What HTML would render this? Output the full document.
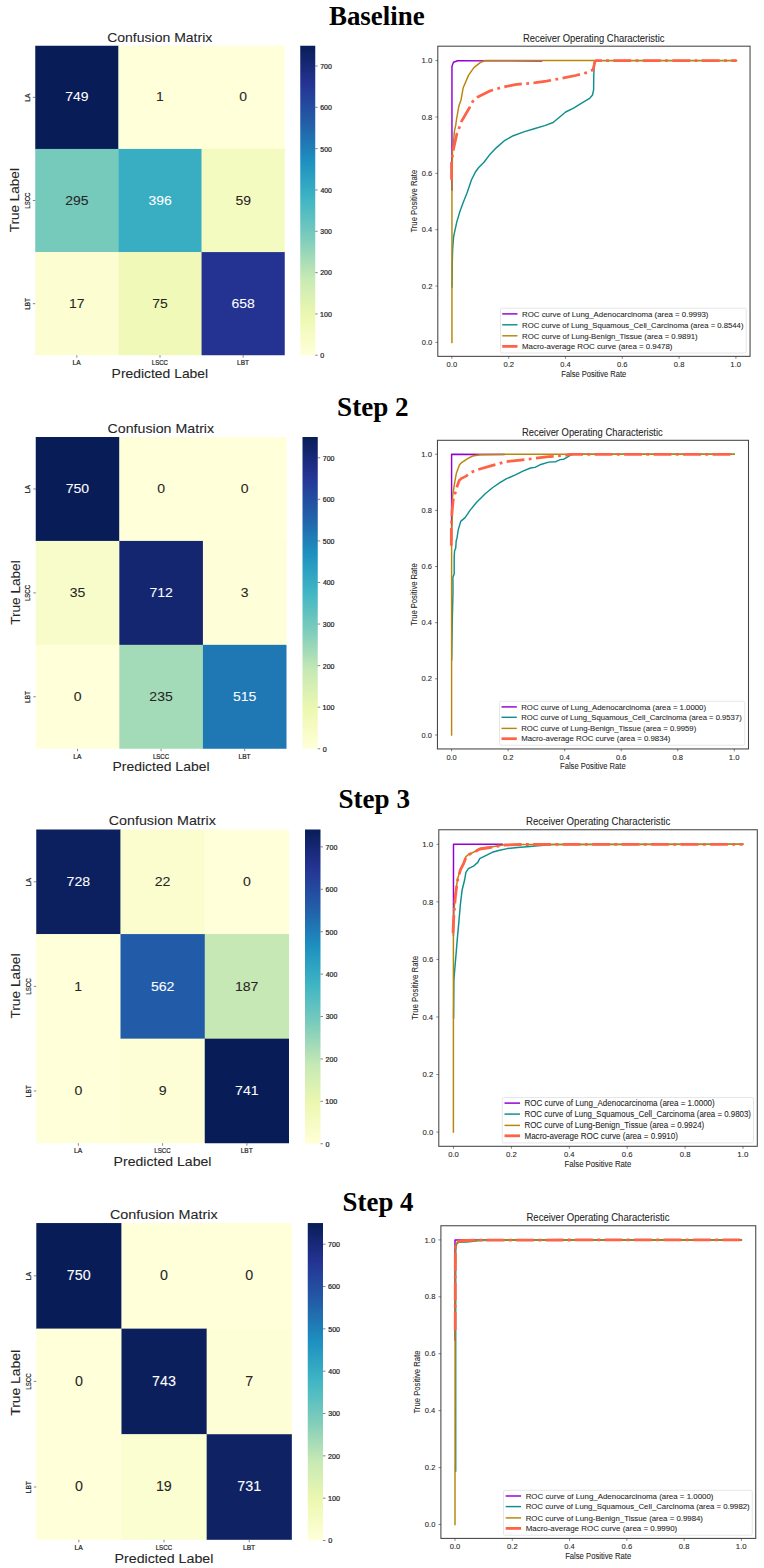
<!DOCTYPE html>
<html><head><meta charset="utf-8"><title>Confusion matrices and ROC curves</title>
<style>html,body{margin:0;padding:0;background:#fff;}svg{display:block;}</style></head>
<body><svg width="764" height="1568" viewBox="0 0 764 1568">
<rect width="764" height="1568" fill="#fff"/>
<text x="328.95" y="24.70" font-size="26.80" font-family='"Liberation Serif", serif' font-weight="bold" fill="#000" textLength="95.74" lengthAdjust="spacingAndGlyphs">Baseline</text>
<rect x="35.25" y="45.75" width="83.47" height="103.47" fill="rgb(8,29,88)"/>
<rect x="118.42" y="45.75" width="83.47" height="103.47" fill="rgb(255,255,217)"/>
<rect x="201.58" y="45.75" width="83.17" height="103.47" fill="rgb(255,255,217)"/>
<rect x="35.25" y="148.92" width="83.47" height="103.47" fill="rgb(118,202,188)"/>
<rect x="118.42" y="148.92" width="83.47" height="103.47" fill="rgb(57,174,195)"/>
<rect x="201.58" y="148.92" width="83.17" height="103.47" fill="rgb(244,251,192)"/>
<rect x="35.25" y="252.08" width="83.47" height="103.17" fill="rgb(252,254,210)"/>
<rect x="118.42" y="252.08" width="83.47" height="103.17" fill="rgb(241,249,185)"/>
<rect x="201.58" y="252.08" width="83.17" height="103.17" fill="rgb(36,51,146)"/>
<text x="65.18" y="101.41" font-size="13.40" font-family='"Liberation Sans", sans-serif' fill="#ffffff" textLength="23.25" lengthAdjust="spacingAndGlyphs" stroke="#ffffff" stroke-width="0.08">749</text>
<text x="155.93" y="101.41" font-size="13.40" font-family='"Liberation Sans", sans-serif' fill="#262626" textLength="7.75" lengthAdjust="spacingAndGlyphs" stroke="#262626" stroke-width="0.08">1</text>
<text x="239.29" y="101.41" font-size="13.40" font-family='"Liberation Sans", sans-serif' fill="#262626" textLength="7.75" lengthAdjust="spacingAndGlyphs" stroke="#262626" stroke-width="0.08">0</text>
<text x="65.15" y="204.58" font-size="13.40" font-family='"Liberation Sans", sans-serif' fill="#262626" textLength="23.25" lengthAdjust="spacingAndGlyphs" stroke="#262626" stroke-width="0.08">295</text>
<text x="148.42" y="204.58" font-size="13.40" font-family='"Liberation Sans", sans-serif' fill="#ffffff" textLength="23.25" lengthAdjust="spacingAndGlyphs" stroke="#ffffff" stroke-width="0.08">396</text>
<text x="235.47" y="204.58" font-size="13.40" font-family='"Liberation Sans", sans-serif' fill="#262626" textLength="15.50" lengthAdjust="spacingAndGlyphs" stroke="#262626" stroke-width="0.08">59</text>
<text x="68.90" y="307.74" font-size="13.40" font-family='"Liberation Sans", sans-serif' fill="#262626" textLength="15.50" lengthAdjust="spacingAndGlyphs" stroke="#262626" stroke-width="0.08">17</text>
<text x="152.18" y="307.74" font-size="13.40" font-family='"Liberation Sans", sans-serif' fill="#262626" textLength="15.50" lengthAdjust="spacingAndGlyphs" stroke="#262626" stroke-width="0.08">75</text>
<text x="231.49" y="307.74" font-size="13.40" font-family='"Liberation Sans", sans-serif' fill="#ffffff" textLength="23.25" lengthAdjust="spacingAndGlyphs" stroke="#ffffff" stroke-width="0.08">658</text>
<line x1="76.83" y1="355.25" x2="76.83" y2="357.65" stroke="#333" stroke-width="0.6"/>
<line x1="32.85" y1="97.33" x2="35.25" y2="97.33" stroke="#333" stroke-width="0.6"/>
<line x1="160.00" y1="355.25" x2="160.00" y2="357.65" stroke="#333" stroke-width="0.6"/>
<line x1="32.85" y1="200.50" x2="35.25" y2="200.50" stroke="#333" stroke-width="0.6"/>
<line x1="243.17" y1="355.25" x2="243.17" y2="357.65" stroke="#333" stroke-width="0.6"/>
<line x1="32.85" y1="303.67" x2="35.25" y2="303.67" stroke="#333" stroke-width="0.6"/>
<text x="72.49" y="365.05" font-size="7.00" font-family='"Liberation Sans", sans-serif' fill="#262626" textLength="8.16" lengthAdjust="spacingAndGlyphs" stroke="#262626" stroke-width="0.22">LA</text>
<g transform="translate(30.00 97.33) rotate(-90)"><text x="-4.35" y="0" font-size="7.00" font-family='"Liberation Sans", sans-serif' fill="#262626" textLength="8.16" lengthAdjust="spacingAndGlyphs" stroke="#262626" stroke-width="0.22">LA</text></g>
<text x="151.80" y="365.05" font-size="7.00" font-family='"Liberation Sans", sans-serif' fill="#262626" textLength="16.13" lengthAdjust="spacingAndGlyphs" stroke="#262626" stroke-width="0.22">LSCC</text>
<g transform="translate(30.00 200.50) rotate(-90)"><text x="-8.20" y="0" font-size="7.00" font-family='"Liberation Sans", sans-serif' fill="#262626" textLength="16.13" lengthAdjust="spacingAndGlyphs" stroke="#262626" stroke-width="0.22">LSCC</text></g>
<text x="237.04" y="365.05" font-size="7.00" font-family='"Liberation Sans", sans-serif' fill="#262626" textLength="11.88" lengthAdjust="spacingAndGlyphs" stroke="#262626" stroke-width="0.22">LBT</text>
<g transform="translate(30.00 303.67) rotate(-90)"><text x="-6.13" y="0" font-size="7.00" font-family='"Liberation Sans", sans-serif' fill="#262626" textLength="11.88" lengthAdjust="spacingAndGlyphs" stroke="#262626" stroke-width="0.22">LBT</text></g>
<text x="107.16" y="42.00" font-size="13.20" font-family='"Liberation Sans", sans-serif' fill="#262626" textLength="105.11" lengthAdjust="spacingAndGlyphs" stroke="#262626" stroke-width="0.08">Confusion Matrix</text>
<text x="111.61" y="378.10" font-size="13.20" font-family='"Liberation Sans", sans-serif' fill="#262626" textLength="96.57" lengthAdjust="spacingAndGlyphs" stroke="#262626" stroke-width="0.08">Predicted Label</text>
<g transform="translate(19.10 200.50) rotate(-90)"><text x="-31.80" y="0" font-size="13.20" font-family='"Liberation Sans", sans-serif' fill="#262626" textLength="64.20" lengthAdjust="spacingAndGlyphs" stroke="#262626" stroke-width="0.08">True Label</text></g>
<defs><linearGradient id="g1" x1="0" y1="0" x2="0" y2="1"><stop offset="0.0000" stop-color="#081d58"/><stop offset="0.1250" stop-color="#253494"/><stop offset="0.2500" stop-color="#225ea8"/><stop offset="0.3750" stop-color="#1d91c0"/><stop offset="0.5000" stop-color="#41b6c4"/><stop offset="0.6250" stop-color="#7fcdbb"/><stop offset="0.7500" stop-color="#c7e9b4"/><stop offset="0.8750" stop-color="#edf8b1"/><stop offset="1.0000" stop-color="#ffffd9"/></linearGradient></defs>
<rect x="300.25" y="45.75" width="15.00" height="309.50" fill="url(#g1)"/>
<line x1="315.25" y1="355.25" x2="317.65" y2="355.25" stroke="#333" stroke-width="0.6"/>
<text x="320.32" y="358.12" font-size="6.50" font-family='"Liberation Sans", sans-serif' fill="#262626" textLength="3.96" lengthAdjust="spacingAndGlyphs" stroke="#262626" stroke-width="0.22">0</text>
<line x1="315.25" y1="313.93" x2="317.65" y2="313.93" stroke="#333" stroke-width="0.6"/>
<text x="320.06" y="316.80" font-size="6.50" font-family='"Liberation Sans", sans-serif' fill="#262626" textLength="11.82" lengthAdjust="spacingAndGlyphs" stroke="#262626" stroke-width="0.22">100</text>
<line x1="315.25" y1="272.61" x2="317.65" y2="272.61" stroke="#333" stroke-width="0.6"/>
<text x="320.25" y="275.48" font-size="6.50" font-family='"Liberation Sans", sans-serif' fill="#262626" textLength="11.62" lengthAdjust="spacingAndGlyphs" stroke="#262626" stroke-width="0.22">200</text>
<line x1="315.25" y1="231.28" x2="317.65" y2="231.28" stroke="#333" stroke-width="0.6"/>
<text x="320.34" y="234.15" font-size="6.50" font-family='"Liberation Sans", sans-serif' fill="#262626" textLength="11.53" lengthAdjust="spacingAndGlyphs" stroke="#262626" stroke-width="0.22">300</text>
<line x1="315.25" y1="189.96" x2="317.65" y2="189.96" stroke="#333" stroke-width="0.6"/>
<text x="320.44" y="192.83" font-size="6.50" font-family='"Liberation Sans", sans-serif' fill="#262626" textLength="11.42" lengthAdjust="spacingAndGlyphs" stroke="#262626" stroke-width="0.22">400</text>
<line x1="315.25" y1="148.64" x2="317.65" y2="148.64" stroke="#333" stroke-width="0.6"/>
<text x="320.32" y="151.51" font-size="6.50" font-family='"Liberation Sans", sans-serif' fill="#262626" textLength="11.55" lengthAdjust="spacingAndGlyphs" stroke="#262626" stroke-width="0.22">500</text>
<line x1="315.25" y1="107.32" x2="317.65" y2="107.32" stroke="#333" stroke-width="0.6"/>
<text x="320.25" y="110.19" font-size="6.50" font-family='"Liberation Sans", sans-serif' fill="#262626" textLength="11.63" lengthAdjust="spacingAndGlyphs" stroke="#262626" stroke-width="0.22">600</text>
<line x1="315.25" y1="66.00" x2="317.65" y2="66.00" stroke="#333" stroke-width="0.6"/>
<text x="320.24" y="68.87" font-size="6.50" font-family='"Liberation Sans", sans-serif' fill="#262626" textLength="11.63" lengthAdjust="spacingAndGlyphs" stroke="#262626" stroke-width="0.22">700</text>
<defs><clipPath id="c1"><rect x="437.80" y="46.20" width="312.25" height="310.15"/></clipPath></defs>
<g clip-path="url(#c1)" fill="none" stroke-linejoin="round" stroke-linecap="square">
<path d="M451.95 190.00 L451.95 66.30 L453.50 62.30 L457.60 60.80 L541.50 60.90" stroke="#9400d3" stroke-width="1.45"/>
<path d="M451.95 287.00 L452.30 262.00 L452.60 250.00 L453.60 236.60 L456.80 221.90 L459.90 211.50 L463.00 203.10 L467.20 192.60 L471.40 180.00 L475.60 171.70 L478.70 167.50 L484.00 162.30 L490.30 153.90 L496.50 147.60 L504.90 140.30 L513.30 135.70 L523.80 131.90 L534.20 128.70 L544.70 125.60 L553.10 122.50 L559.40 117.20 L565.70 112.00 L574.00 107.80 L582.40 102.60 L589.70 98.40 L592.50 95.00 L593.60 89.90 L593.80 74.80 L594.30 62.00 L595.00 60.60 L735.90 60.60" stroke="#0f8f8f" stroke-width="1.45"/>
<path d="M451.95 342.40 L451.95 196.00 L452.50 150.30 L453.20 146.00 L454.40 131.40 L455.70 125.40 L456.60 118.80 L458.80 106.30 L461.00 100.00 L463.20 87.70 L468.60 75.10 L473.90 67.60 L480.20 62.60 L485.20 60.50 L736.50 60.50" stroke="#b8860b" stroke-width="1.45"/>
<path d="M451.50 179.80 L451.50 161.60 L452.50 155.30 L453.50 149.00 L457.00 133.30 L459.30 127.60 L461.50 121.40 L469.60 107.50 L472.70 101.50 L477.70 97.10 L490.30 90.80 L502.80 87.10 L515.40 84.60 L535.50 82.70 L546.50 81.10 L560.30 78.60 L575.40 75.50 L588.00 72.30 L593.00 69.80 L594.90 62.00 L596.00 60.50 L736.50 60.50" stroke="#ff6347" stroke-width="2.75" stroke-dasharray="17.8 4.45 2.78 4.45" stroke-linecap="butt"/>
</g>
<rect x="500.50" y="308.20" width="245.75" height="44.80" fill="#ffffff" fill-opacity="0.8" stroke="#dcdcdc" stroke-width="0.7" rx="1.5"/>
<line x1="502.20" y1="313.90" x2="517.50" y2="313.90" stroke="#9400d3" stroke-width="1.45"/>
<text x="522.06" y="316.65" font-size="8.00" font-family='"Liberation Sans", sans-serif' fill="#262626" textLength="186.43" lengthAdjust="spacingAndGlyphs" stroke="#262626" stroke-width="0.08">ROC curve of Lung_Adenocarcinoma (area = 0.9993)</text>
<line x1="502.20" y1="324.80" x2="517.50" y2="324.80" stroke="#0f8f8f" stroke-width="1.45"/>
<text x="522.07" y="327.55" font-size="8.00" font-family='"Liberation Sans", sans-serif' fill="#262626" textLength="221.41" lengthAdjust="spacingAndGlyphs" stroke="#262626" stroke-width="0.08">ROC curve of Lung_Squamous_Cell_Carcinoma (area = 0.8544)</text>
<line x1="502.20" y1="335.80" x2="517.50" y2="335.80" stroke="#b8860b" stroke-width="1.45"/>
<text x="522.06" y="338.55" font-size="8.00" font-family='"Liberation Sans", sans-serif' fill="#262626" textLength="175.62" lengthAdjust="spacingAndGlyphs" stroke="#262626" stroke-width="0.08">ROC curve of Lung-Benign_Tissue (area = 0.9891)</text>
<line x1="502.20" y1="346.40" x2="517.50" y2="346.40" stroke="#ff6347" stroke-width="2.75"/>
<text x="522.05" y="349.15" font-size="8.00" font-family='"Liberation Sans", sans-serif' fill="#262626" textLength="150.43" lengthAdjust="spacingAndGlyphs" stroke="#262626" stroke-width="0.08">Macro-average ROC curve (area = 0.9478)</text>
<rect x="437.80" y="46.20" width="312.25" height="310.15" fill="none" stroke="#444" stroke-width="1.05"/>
<line x1="451.85" y1="356.35" x2="451.85" y2="358.75" stroke="#333" stroke-width="0.6"/>
<text x="446.61" y="366.75" font-size="7.60" font-family='"Liberation Sans", sans-serif' fill="#262626" textLength="10.49" lengthAdjust="spacingAndGlyphs" stroke="#262626" stroke-width="0.08">0.0</text>
<line x1="435.40" y1="342.40" x2="437.80" y2="342.40" stroke="#333" stroke-width="0.6"/>
<text x="421.81" y="345.05" font-size="7.60" font-family='"Liberation Sans", sans-serif' fill="#262626" textLength="10.49" lengthAdjust="spacingAndGlyphs" stroke="#262626" stroke-width="0.08">0.0</text>
<line x1="508.66" y1="356.35" x2="508.66" y2="358.75" stroke="#333" stroke-width="0.6"/>
<text x="503.41" y="366.75" font-size="7.60" font-family='"Liberation Sans", sans-serif' fill="#262626" textLength="10.58" lengthAdjust="spacingAndGlyphs" stroke="#262626" stroke-width="0.08">0.2</text>
<line x1="435.40" y1="286.04" x2="437.80" y2="286.04" stroke="#333" stroke-width="0.6"/>
<text x="421.80" y="288.69" font-size="7.60" font-family='"Liberation Sans", sans-serif' fill="#262626" textLength="10.58" lengthAdjust="spacingAndGlyphs" stroke="#262626" stroke-width="0.08">0.2</text>
<line x1="565.47" y1="356.35" x2="565.47" y2="358.75" stroke="#333" stroke-width="0.6"/>
<text x="560.23" y="366.75" font-size="7.60" font-family='"Liberation Sans", sans-serif' fill="#262626" textLength="10.41" lengthAdjust="spacingAndGlyphs" stroke="#262626" stroke-width="0.08">0.4</text>
<line x1="435.40" y1="229.68" x2="437.80" y2="229.68" stroke="#333" stroke-width="0.6"/>
<text x="421.81" y="232.33" font-size="7.60" font-family='"Liberation Sans", sans-serif' fill="#262626" textLength="10.41" lengthAdjust="spacingAndGlyphs" stroke="#262626" stroke-width="0.08">0.4</text>
<line x1="622.28" y1="356.35" x2="622.28" y2="358.75" stroke="#333" stroke-width="0.6"/>
<text x="617.03" y="366.75" font-size="7.60" font-family='"Liberation Sans", sans-serif' fill="#262626" textLength="10.53" lengthAdjust="spacingAndGlyphs" stroke="#262626" stroke-width="0.08">0.6</text>
<line x1="435.40" y1="173.32" x2="437.80" y2="173.32" stroke="#333" stroke-width="0.6"/>
<text x="421.80" y="175.97" font-size="7.60" font-family='"Liberation Sans", sans-serif' fill="#262626" textLength="10.53" lengthAdjust="spacingAndGlyphs" stroke="#262626" stroke-width="0.08">0.6</text>
<line x1="679.09" y1="356.35" x2="679.09" y2="358.75" stroke="#333" stroke-width="0.6"/>
<text x="673.84" y="366.75" font-size="7.60" font-family='"Liberation Sans", sans-serif' fill="#262626" textLength="10.52" lengthAdjust="spacingAndGlyphs" stroke="#262626" stroke-width="0.08">0.8</text>
<line x1="435.40" y1="116.96" x2="437.80" y2="116.96" stroke="#333" stroke-width="0.6"/>
<text x="421.80" y="119.61" font-size="7.60" font-family='"Liberation Sans", sans-serif' fill="#262626" textLength="10.52" lengthAdjust="spacingAndGlyphs" stroke="#262626" stroke-width="0.08">0.8</text>
<line x1="735.90" y1="356.35" x2="735.90" y2="358.75" stroke="#333" stroke-width="0.6"/>
<text x="730.36" y="366.75" font-size="7.60" font-family='"Liberation Sans", sans-serif' fill="#262626" textLength="10.79" lengthAdjust="spacingAndGlyphs" stroke="#262626" stroke-width="0.08">1.0</text>
<line x1="435.40" y1="60.60" x2="437.80" y2="60.60" stroke="#333" stroke-width="0.6"/>
<text x="421.51" y="63.25" font-size="7.60" font-family='"Liberation Sans", sans-serif' fill="#262626" textLength="10.79" lengthAdjust="spacingAndGlyphs" stroke="#262626" stroke-width="0.08">1.0</text>
<text x="522.93" y="41.90" font-size="10.40" font-family='"Liberation Sans", sans-serif' fill="#262626" textLength="141.57" lengthAdjust="spacingAndGlyphs" stroke="#262626" stroke-width="0.08">Receiver Operating Characteristic</text>
<text x="561.31" y="376.85" font-size="8.50" font-family='"Liberation Sans", sans-serif' fill="#262626" textLength="64.95" lengthAdjust="spacingAndGlyphs" stroke="#262626" stroke-width="0.08">False Positive Rate</text>
<g transform="translate(417.30 201.28) rotate(-90)"><text x="-31.32" y="0" font-size="8.50" font-family='"Liberation Sans", sans-serif' fill="#262626" textLength="62.81" lengthAdjust="spacingAndGlyphs" stroke="#262626" stroke-width="0.08">True Positive Rate</text></g>
<text x="337.06" y="416.40" font-size="27.00" font-family='"Liberation Serif", serif' font-weight="bold" fill="#000" textLength="71.61" lengthAdjust="spacingAndGlyphs">Step 2</text>
<rect x="35.75" y="437.00" width="83.88" height="104.22" fill="rgb(8,29,88)"/>
<rect x="119.33" y="437.00" width="83.88" height="104.22" fill="rgb(255,255,217)"/>
<rect x="202.92" y="437.00" width="83.58" height="104.22" fill="rgb(255,255,217)"/>
<rect x="35.75" y="540.92" width="83.88" height="104.22" fill="rgb(248,252,202)"/>
<rect x="119.33" y="540.92" width="83.88" height="104.22" fill="rgb(20,38,112)"/>
<rect x="202.92" y="540.92" width="83.58" height="104.22" fill="rgb(254,255,216)"/>
<rect x="35.75" y="644.83" width="83.88" height="103.92" fill="rgb(255,255,217)"/>
<rect x="119.33" y="644.83" width="83.88" height="103.92" fill="rgb(163,219,184)"/>
<rect x="202.92" y="644.83" width="83.58" height="103.92" fill="rgb(31,120,180)"/>
<text x="65.77" y="493.06" font-size="13.47" font-family='"Liberation Sans", sans-serif' fill="#ffffff" textLength="23.37" lengthAdjust="spacingAndGlyphs" stroke="#ffffff" stroke-width="0.08">750</text>
<text x="157.23" y="493.06" font-size="13.47" font-family='"Liberation Sans", sans-serif' fill="#262626" textLength="7.79" lengthAdjust="spacingAndGlyphs" stroke="#262626" stroke-width="0.08">0</text>
<text x="240.81" y="493.06" font-size="13.47" font-family='"Liberation Sans", sans-serif' fill="#262626" textLength="7.79" lengthAdjust="spacingAndGlyphs" stroke="#262626" stroke-width="0.08">0</text>
<text x="69.78" y="596.98" font-size="13.47" font-family='"Liberation Sans", sans-serif' fill="#262626" textLength="15.58" lengthAdjust="spacingAndGlyphs" stroke="#262626" stroke-width="0.08">35</text>
<text x="149.43" y="596.98" font-size="13.47" font-family='"Liberation Sans", sans-serif' fill="#ffffff" textLength="23.37" lengthAdjust="spacingAndGlyphs" stroke="#ffffff" stroke-width="0.08">712</text>
<text x="240.85" y="596.98" font-size="13.47" font-family='"Liberation Sans", sans-serif' fill="#262626" textLength="7.79" lengthAdjust="spacingAndGlyphs" stroke="#262626" stroke-width="0.08">3</text>
<text x="73.65" y="700.89" font-size="13.47" font-family='"Liberation Sans", sans-serif' fill="#262626" textLength="7.79" lengthAdjust="spacingAndGlyphs" stroke="#262626" stroke-width="0.08">0</text>
<text x="149.38" y="700.89" font-size="13.47" font-family='"Liberation Sans", sans-serif' fill="#262626" textLength="23.37" lengthAdjust="spacingAndGlyphs" stroke="#262626" stroke-width="0.08">235</text>
<text x="233.04" y="700.89" font-size="13.47" font-family='"Liberation Sans", sans-serif' fill="#ffffff" textLength="23.37" lengthAdjust="spacingAndGlyphs" stroke="#ffffff" stroke-width="0.08">515</text>
<line x1="77.54" y1="748.75" x2="77.54" y2="751.16" stroke="#333" stroke-width="0.6"/>
<line x1="33.34" y1="488.96" x2="35.75" y2="488.96" stroke="#333" stroke-width="0.6"/>
<line x1="161.12" y1="748.75" x2="161.12" y2="751.16" stroke="#333" stroke-width="0.6"/>
<line x1="33.34" y1="592.88" x2="35.75" y2="592.88" stroke="#333" stroke-width="0.6"/>
<line x1="244.71" y1="748.75" x2="244.71" y2="751.16" stroke="#333" stroke-width="0.6"/>
<line x1="33.34" y1="696.79" x2="35.75" y2="696.79" stroke="#333" stroke-width="0.6"/>
<text x="73.17" y="758.60" font-size="7.04" font-family='"Liberation Sans", sans-serif' fill="#262626" textLength="8.20" lengthAdjust="spacingAndGlyphs" stroke="#262626" stroke-width="0.22">LA</text>
<g transform="translate(30.47 488.96) rotate(-90)"><text x="-4.37" y="0" font-size="7.04" font-family='"Liberation Sans", sans-serif' fill="#262626" textLength="8.20" lengthAdjust="spacingAndGlyphs" stroke="#262626" stroke-width="0.22">LA</text></g>
<text x="152.89" y="758.60" font-size="7.04" font-family='"Liberation Sans", sans-serif' fill="#262626" textLength="16.21" lengthAdjust="spacingAndGlyphs" stroke="#262626" stroke-width="0.22">LSCC</text>
<g transform="translate(30.47 592.88) rotate(-90)"><text x="-8.24" y="0" font-size="7.04" font-family='"Liberation Sans", sans-serif' fill="#262626" textLength="16.21" lengthAdjust="spacingAndGlyphs" stroke="#262626" stroke-width="0.22">LSCC</text></g>
<text x="238.55" y="758.60" font-size="7.04" font-family='"Liberation Sans", sans-serif' fill="#262626" textLength="11.94" lengthAdjust="spacingAndGlyphs" stroke="#262626" stroke-width="0.22">LBT</text>
<g transform="translate(30.47 696.79) rotate(-90)"><text x="-6.16" y="0" font-size="7.04" font-family='"Liberation Sans", sans-serif' fill="#262626" textLength="11.94" lengthAdjust="spacingAndGlyphs" stroke="#262626" stroke-width="0.22">LBT</text></g>
<text x="107.55" y="433.25" font-size="13.27" font-family='"Liberation Sans", sans-serif' fill="#262626" textLength="106.57" lengthAdjust="spacingAndGlyphs" stroke="#262626" stroke-width="0.08">Confusion Matrix</text>
<text x="112.49" y="771.25" font-size="13.27" font-family='"Liberation Sans", sans-serif' fill="#262626" textLength="97.05" lengthAdjust="spacingAndGlyphs" stroke="#262626" stroke-width="0.08">Predicted Label</text>
<g transform="translate(19.52 592.88) rotate(-90)"><text x="-31.96" y="0" font-size="13.27" font-family='"Liberation Sans", sans-serif' fill="#262626" textLength="64.52" lengthAdjust="spacingAndGlyphs" stroke="#262626" stroke-width="0.08">True Label</text></g>
<defs><linearGradient id="g2" x1="0" y1="0" x2="0" y2="1"><stop offset="0.0000" stop-color="#081d58"/><stop offset="0.1250" stop-color="#253494"/><stop offset="0.2500" stop-color="#225ea8"/><stop offset="0.3750" stop-color="#1d91c0"/><stop offset="0.5000" stop-color="#41b6c4"/><stop offset="0.6250" stop-color="#7fcdbb"/><stop offset="0.7500" stop-color="#c7e9b4"/><stop offset="0.8750" stop-color="#edf8b1"/><stop offset="1.0000" stop-color="#ffffd9"/></linearGradient></defs>
<rect x="302.50" y="437.00" width="15.25" height="311.75" fill="url(#g2)"/>
<line x1="317.75" y1="748.75" x2="320.16" y2="748.75" stroke="#333" stroke-width="0.6"/>
<text x="322.85" y="751.63" font-size="6.53" font-family='"Liberation Sans", sans-serif' fill="#262626" textLength="3.98" lengthAdjust="spacingAndGlyphs" stroke="#262626" stroke-width="0.22">0</text>
<line x1="317.75" y1="707.18" x2="320.16" y2="707.18" stroke="#333" stroke-width="0.6"/>
<text x="322.58" y="710.06" font-size="6.53" font-family='"Liberation Sans", sans-serif' fill="#262626" textLength="11.88" lengthAdjust="spacingAndGlyphs" stroke="#262626" stroke-width="0.22">100</text>
<line x1="317.75" y1="665.62" x2="320.16" y2="665.62" stroke="#333" stroke-width="0.6"/>
<text x="322.77" y="668.50" font-size="6.53" font-family='"Liberation Sans", sans-serif' fill="#262626" textLength="11.68" lengthAdjust="spacingAndGlyphs" stroke="#262626" stroke-width="0.22">200</text>
<line x1="317.75" y1="624.05" x2="320.16" y2="624.05" stroke="#333" stroke-width="0.6"/>
<text x="322.86" y="626.93" font-size="6.53" font-family='"Liberation Sans", sans-serif' fill="#262626" textLength="11.59" lengthAdjust="spacingAndGlyphs" stroke="#262626" stroke-width="0.22">300</text>
<line x1="317.75" y1="582.48" x2="320.16" y2="582.48" stroke="#333" stroke-width="0.6"/>
<text x="322.97" y="585.36" font-size="6.53" font-family='"Liberation Sans", sans-serif' fill="#262626" textLength="11.48" lengthAdjust="spacingAndGlyphs" stroke="#262626" stroke-width="0.22">400</text>
<line x1="317.75" y1="540.92" x2="320.16" y2="540.92" stroke="#333" stroke-width="0.6"/>
<text x="322.85" y="543.80" font-size="6.53" font-family='"Liberation Sans", sans-serif' fill="#262626" textLength="11.61" lengthAdjust="spacingAndGlyphs" stroke="#262626" stroke-width="0.22">500</text>
<line x1="317.75" y1="499.35" x2="320.16" y2="499.35" stroke="#333" stroke-width="0.6"/>
<text x="322.77" y="502.23" font-size="6.53" font-family='"Liberation Sans", sans-serif' fill="#262626" textLength="11.68" lengthAdjust="spacingAndGlyphs" stroke="#262626" stroke-width="0.22">600</text>
<line x1="317.75" y1="457.78" x2="320.16" y2="457.78" stroke="#333" stroke-width="0.6"/>
<text x="322.77" y="460.66" font-size="6.53" font-family='"Liberation Sans", sans-serif' fill="#262626" textLength="11.69" lengthAdjust="spacingAndGlyphs" stroke="#262626" stroke-width="0.22">700</text>
<defs><clipPath id="c2"><rect x="437.45" y="440.30" width="311.05" height="308.65"/></clipPath></defs>
<g clip-path="url(#c2)" fill="none" stroke-linejoin="round" stroke-linecap="square">
<path d="M451.60 540.00 L451.60 454.30 L504.00 454.50" stroke="#9400d3" stroke-width="1.44"/>
<path d="M451.70 660.00 L452.30 620.00 L453.00 591.60 L452.90 577.10 L454.20 574.00 L454.20 556.40 L454.60 550.70 L455.70 548.20 L456.20 540.70 L457.00 538.20 L458.20 530.00 L460.70 521.40 L465.10 517.60 L470.20 510.10 L476.40 502.50 L481.50 497.50 L485.20 493.80 L492.80 487.50 L500.30 482.40 L506.60 478.70 L515.40 474.90 L522.90 471.10 L530.50 468.00 L535.00 467.40 L540.00 464.80 L548.80 462.10 L555.80 461.70 L560.20 459.60 L563.90 459.20 L570.20 455.40 L572.70 454.30 L734.25 454.30" stroke="#0f8f8f" stroke-width="1.44"/>
<path d="M451.60 735.00 L451.60 530.00 L452.20 521.40 L452.60 496.30 L454.50 483.70 L456.30 473.60 L459.50 464.80 L462.00 462.30 L467.60 458.60 L472.70 456.00 L480.20 454.80 L502.80 454.20 L734.25 454.20" stroke="#b8860b" stroke-width="1.44"/>
<path d="M451.30 545.70 L451.30 527.70 L452.00 512.00 L453.20 500.00 L455.10 493.40 L457.00 486.80 L459.20 480.50 L461.10 478.60 L466.10 476.10 L471.40 472.30 L477.10 469.80 L492.50 465.40 L499.10 463.60 L505.30 461.70 L520.40 460.10 L536.00 458.20 L548.80 456.70 L565.20 455.40 L570.20 454.30 L734.25 454.30" stroke="#ff6347" stroke-width="2.73" stroke-dasharray="17.8 4.45 2.78 4.45" stroke-linecap="butt"/>
</g>
<rect x="499.50" y="701.30" width="245.25" height="43.90" fill="#ffffff" fill-opacity="0.8" stroke="#dcdcdc" stroke-width="0.7" rx="1.5"/>
<line x1="501.50" y1="706.90" x2="516.80" y2="706.90" stroke="#9400d3" stroke-width="1.44"/>
<text x="521.26" y="709.63" font-size="7.95" font-family='"Liberation Sans", sans-serif' fill="#262626" textLength="184.72" lengthAdjust="spacingAndGlyphs" stroke="#262626" stroke-width="0.08">ROC curve of Lung_Adenocarcinoma (area = 1.0000)</text>
<line x1="501.50" y1="717.30" x2="516.80" y2="717.30" stroke="#0f8f8f" stroke-width="1.44"/>
<text x="521.27" y="720.03" font-size="7.95" font-family='"Liberation Sans", sans-serif' fill="#262626" textLength="220.46" lengthAdjust="spacingAndGlyphs" stroke="#262626" stroke-width="0.08">ROC curve of Lung_Squamous_Cell_Carcinoma (area = 0.9537)</text>
<line x1="501.50" y1="728.40" x2="516.80" y2="728.40" stroke="#b8860b" stroke-width="1.44"/>
<text x="521.27" y="731.13" font-size="7.95" font-family='"Liberation Sans", sans-serif' fill="#262626" textLength="174.96" lengthAdjust="spacingAndGlyphs" stroke="#262626" stroke-width="0.08">ROC curve of Lung-Benign_Tissue (area = 0.9959)</text>
<line x1="501.50" y1="738.70" x2="516.80" y2="738.70" stroke="#ff6347" stroke-width="2.73"/>
<text x="521.26" y="741.43" font-size="7.95" font-family='"Liberation Sans", sans-serif' fill="#262626" textLength="149.23" lengthAdjust="spacingAndGlyphs" stroke="#262626" stroke-width="0.08">Macro-average ROC curve (area = 0.9834)</text>
<rect x="437.45" y="440.30" width="311.05" height="308.65" fill="none" stroke="#444" stroke-width="1.05"/>
<line x1="451.60" y1="748.95" x2="451.60" y2="751.33" stroke="#333" stroke-width="0.6"/>
<text x="446.39" y="759.50" font-size="7.55" font-family='"Liberation Sans", sans-serif' fill="#262626" textLength="10.42" lengthAdjust="spacingAndGlyphs" stroke="#262626" stroke-width="0.08">0.0</text>
<line x1="435.07" y1="735.00" x2="437.45" y2="735.00" stroke="#333" stroke-width="0.6"/>
<text x="421.56" y="737.64" font-size="7.55" font-family='"Liberation Sans", sans-serif' fill="#262626" textLength="10.42" lengthAdjust="spacingAndGlyphs" stroke="#262626" stroke-width="0.08">0.0</text>
<line x1="508.14" y1="748.95" x2="508.14" y2="751.33" stroke="#333" stroke-width="0.6"/>
<text x="502.93" y="759.50" font-size="7.55" font-family='"Liberation Sans", sans-serif' fill="#262626" textLength="10.51" lengthAdjust="spacingAndGlyphs" stroke="#262626" stroke-width="0.08">0.2</text>
<line x1="435.07" y1="678.84" x2="437.45" y2="678.84" stroke="#333" stroke-width="0.6"/>
<text x="421.55" y="681.48" font-size="7.55" font-family='"Liberation Sans", sans-serif' fill="#262626" textLength="10.51" lengthAdjust="spacingAndGlyphs" stroke="#262626" stroke-width="0.08">0.2</text>
<line x1="564.68" y1="748.95" x2="564.68" y2="751.33" stroke="#333" stroke-width="0.6"/>
<text x="559.47" y="759.50" font-size="7.55" font-family='"Liberation Sans", sans-serif' fill="#262626" textLength="10.35" lengthAdjust="spacingAndGlyphs" stroke="#262626" stroke-width="0.08">0.4</text>
<line x1="435.07" y1="622.68" x2="437.45" y2="622.68" stroke="#333" stroke-width="0.6"/>
<text x="421.56" y="625.32" font-size="7.55" font-family='"Liberation Sans", sans-serif' fill="#262626" textLength="10.35" lengthAdjust="spacingAndGlyphs" stroke="#262626" stroke-width="0.08">0.4</text>
<line x1="621.22" y1="748.95" x2="621.22" y2="751.33" stroke="#333" stroke-width="0.6"/>
<text x="616.01" y="759.50" font-size="7.55" font-family='"Liberation Sans", sans-serif' fill="#262626" textLength="10.46" lengthAdjust="spacingAndGlyphs" stroke="#262626" stroke-width="0.08">0.6</text>
<line x1="435.07" y1="566.52" x2="437.45" y2="566.52" stroke="#333" stroke-width="0.6"/>
<text x="421.56" y="569.16" font-size="7.55" font-family='"Liberation Sans", sans-serif' fill="#262626" textLength="10.46" lengthAdjust="spacingAndGlyphs" stroke="#262626" stroke-width="0.08">0.6</text>
<line x1="677.76" y1="748.95" x2="677.76" y2="751.33" stroke="#333" stroke-width="0.6"/>
<text x="672.55" y="759.50" font-size="7.55" font-family='"Liberation Sans", sans-serif' fill="#262626" textLength="10.46" lengthAdjust="spacingAndGlyphs" stroke="#262626" stroke-width="0.08">0.8</text>
<line x1="435.07" y1="510.36" x2="437.45" y2="510.36" stroke="#333" stroke-width="0.6"/>
<text x="421.56" y="513.00" font-size="7.55" font-family='"Liberation Sans", sans-serif' fill="#262626" textLength="10.46" lengthAdjust="spacingAndGlyphs" stroke="#262626" stroke-width="0.08">0.8</text>
<line x1="734.30" y1="748.95" x2="734.30" y2="751.33" stroke="#333" stroke-width="0.6"/>
<text x="728.79" y="759.50" font-size="7.55" font-family='"Liberation Sans", sans-serif' fill="#262626" textLength="10.73" lengthAdjust="spacingAndGlyphs" stroke="#262626" stroke-width="0.08">1.0</text>
<line x1="435.07" y1="454.20" x2="437.45" y2="454.20" stroke="#333" stroke-width="0.6"/>
<text x="421.26" y="456.84" font-size="7.55" font-family='"Liberation Sans", sans-serif' fill="#262626" textLength="10.73" lengthAdjust="spacingAndGlyphs" stroke="#262626" stroke-width="0.08">1.0</text>
<text x="521.98" y="435.90" font-size="10.33" font-family='"Liberation Sans", sans-serif' fill="#262626" textLength="140.77" lengthAdjust="spacingAndGlyphs" stroke="#262626" stroke-width="0.08">Receiver Operating Characteristic</text>
<text x="560.00" y="768.95" font-size="8.45" font-family='"Liberation Sans", sans-serif' fill="#262626" textLength="65.66" lengthAdjust="spacingAndGlyphs" stroke="#262626" stroke-width="0.08">False Positive Rate</text>
<g transform="translate(417.08 594.62) rotate(-90)"><text x="-31.12" y="0" font-size="8.45" font-family='"Liberation Sans", sans-serif' fill="#262626" textLength="62.41" lengthAdjust="spacingAndGlyphs" stroke="#262626" stroke-width="0.08">True Positive Rate</text></g>
<text x="338.46" y="808.00" font-size="27.00" font-family='"Liberation Serif", serif' font-weight="bold" fill="#000" textLength="71.57" lengthAdjust="spacingAndGlyphs">Step 3</text>
<rect x="36.25" y="829.50" width="84.55" height="104.88" fill="rgb(12,32,96)"/>
<rect x="120.50" y="829.50" width="84.55" height="104.88" fill="rgb(251,253,207)"/>
<rect x="204.75" y="829.50" width="84.25" height="104.88" fill="rgb(255,255,217)"/>
<rect x="36.25" y="934.08" width="84.55" height="104.88" fill="rgb(255,255,217)"/>
<rect x="120.50" y="934.08" width="84.55" height="104.88" fill="rgb(34,91,167)"/>
<rect x="204.75" y="934.08" width="84.25" height="104.88" fill="rgb(198,232,180)"/>
<rect x="36.25" y="1038.67" width="84.55" height="104.58" fill="rgb(255,255,217)"/>
<rect x="120.50" y="1038.67" width="84.55" height="104.58" fill="rgb(253,254,213)"/>
<rect x="204.75" y="1038.67" width="84.25" height="104.58" fill="rgb(8,29,88)"/>
<text x="66.54" y="885.93" font-size="13.57" font-family='"Liberation Sans", sans-serif' fill="#ffffff" textLength="23.55" lengthAdjust="spacingAndGlyphs" stroke="#ffffff" stroke-width="0.08">728</text>
<text x="154.77" y="885.93" font-size="13.57" font-family='"Liberation Sans", sans-serif' fill="#262626" textLength="15.70" lengthAdjust="spacingAndGlyphs" stroke="#262626" stroke-width="0.08">22</text>
<text x="242.95" y="885.93" font-size="13.57" font-family='"Liberation Sans", sans-serif' fill="#262626" textLength="7.85" lengthAdjust="spacingAndGlyphs" stroke="#262626" stroke-width="0.08">0</text>
<text x="74.26" y="990.51" font-size="13.57" font-family='"Liberation Sans", sans-serif' fill="#262626" textLength="7.85" lengthAdjust="spacingAndGlyphs" stroke="#262626" stroke-width="0.08">1</text>
<text x="150.92" y="990.51" font-size="13.57" font-family='"Liberation Sans", sans-serif' fill="#ffffff" textLength="23.55" lengthAdjust="spacingAndGlyphs" stroke="#ffffff" stroke-width="0.08">562</text>
<text x="234.92" y="990.51" font-size="13.57" font-family='"Liberation Sans", sans-serif' fill="#262626" textLength="23.55" lengthAdjust="spacingAndGlyphs" stroke="#262626" stroke-width="0.08">187</text>
<text x="74.45" y="1095.10" font-size="13.57" font-family='"Liberation Sans", sans-serif' fill="#262626" textLength="7.85" lengthAdjust="spacingAndGlyphs" stroke="#262626" stroke-width="0.08">0</text>
<text x="158.70" y="1095.10" font-size="13.57" font-family='"Liberation Sans", sans-serif' fill="#262626" textLength="7.85" lengthAdjust="spacingAndGlyphs" stroke="#262626" stroke-width="0.08">9</text>
<text x="235.08" y="1095.10" font-size="13.57" font-family='"Liberation Sans", sans-serif' fill="#ffffff" textLength="23.55" lengthAdjust="spacingAndGlyphs" stroke="#ffffff" stroke-width="0.08">741</text>
<line x1="78.38" y1="1143.25" x2="78.38" y2="1145.68" stroke="#333" stroke-width="0.6"/>
<line x1="33.82" y1="881.79" x2="36.25" y2="881.79" stroke="#333" stroke-width="0.6"/>
<line x1="162.62" y1="1143.25" x2="162.62" y2="1145.68" stroke="#333" stroke-width="0.6"/>
<line x1="33.82" y1="986.38" x2="36.25" y2="986.38" stroke="#333" stroke-width="0.6"/>
<line x1="246.88" y1="1143.25" x2="246.88" y2="1145.68" stroke="#333" stroke-width="0.6"/>
<line x1="33.82" y1="1090.96" x2="36.25" y2="1090.96" stroke="#333" stroke-width="0.6"/>
<text x="73.97" y="1153.18" font-size="7.09" font-family='"Liberation Sans", sans-serif' fill="#262626" textLength="8.27" lengthAdjust="spacingAndGlyphs" stroke="#262626" stroke-width="0.22">LA</text>
<g transform="translate(30.93 881.79) rotate(-90)"><text x="-4.40" y="0" font-size="7.09" font-family='"Liberation Sans", sans-serif' fill="#262626" textLength="8.27" lengthAdjust="spacingAndGlyphs" stroke="#262626" stroke-width="0.22">LA</text></g>
<text x="154.32" y="1153.18" font-size="7.09" font-family='"Liberation Sans", sans-serif' fill="#262626" textLength="16.34" lengthAdjust="spacingAndGlyphs" stroke="#262626" stroke-width="0.22">LSCC</text>
<g transform="translate(30.93 986.38) rotate(-90)"><text x="-8.30" y="0" font-size="7.09" font-family='"Liberation Sans", sans-serif' fill="#262626" textLength="16.34" lengthAdjust="spacingAndGlyphs" stroke="#262626" stroke-width="0.22">LSCC</text></g>
<text x="240.66" y="1153.18" font-size="7.09" font-family='"Liberation Sans", sans-serif' fill="#262626" textLength="12.03" lengthAdjust="spacingAndGlyphs" stroke="#262626" stroke-width="0.22">LBT</text>
<g transform="translate(30.93 1090.96) rotate(-90)"><text x="-6.21" y="0" font-size="7.09" font-family='"Liberation Sans", sans-serif' fill="#262626" textLength="12.03" lengthAdjust="spacingAndGlyphs" stroke="#262626" stroke-width="0.22">LBT</text></g>
<text x="108.77" y="825.25" font-size="13.37" font-family='"Liberation Sans", sans-serif' fill="#262626" textLength="107.13" lengthAdjust="spacingAndGlyphs" stroke="#262626" stroke-width="0.08">Confusion Matrix</text>
<text x="113.60" y="1166.45" font-size="13.37" font-family='"Liberation Sans", sans-serif' fill="#262626" textLength="97.83" lengthAdjust="spacingAndGlyphs" stroke="#262626" stroke-width="0.08">Predicted Label</text>
<g transform="translate(19.89 986.38) rotate(-90)"><text x="-32.22" y="0" font-size="13.37" font-family='"Liberation Sans", sans-serif' fill="#262626" textLength="65.04" lengthAdjust="spacingAndGlyphs" stroke="#262626" stroke-width="0.08">True Label</text></g>
<defs><linearGradient id="g3" x1="0" y1="0" x2="0" y2="1"><stop offset="0.0000" stop-color="#081d58"/><stop offset="0.1250" stop-color="#253494"/><stop offset="0.2500" stop-color="#225ea8"/><stop offset="0.3750" stop-color="#1d91c0"/><stop offset="0.5000" stop-color="#41b6c4"/><stop offset="0.6250" stop-color="#7fcdbb"/><stop offset="0.7500" stop-color="#c7e9b4"/><stop offset="0.8750" stop-color="#edf8b1"/><stop offset="1.0000" stop-color="#ffffd9"/></linearGradient></defs>
<rect x="305.00" y="829.50" width="15.50" height="314.25" fill="url(#g3)"/>
<line x1="320.50" y1="1143.75" x2="322.93" y2="1143.75" stroke="#333" stroke-width="0.6"/>
<text x="325.64" y="1146.65" font-size="6.58" font-family='"Liberation Sans", sans-serif' fill="#262626" textLength="4.01" lengthAdjust="spacingAndGlyphs" stroke="#262626" stroke-width="0.22">0</text>
<line x1="320.50" y1="1101.34" x2="322.93" y2="1101.34" stroke="#333" stroke-width="0.6"/>
<text x="325.37" y="1104.24" font-size="6.58" font-family='"Liberation Sans", sans-serif' fill="#262626" textLength="11.97" lengthAdjust="spacingAndGlyphs" stroke="#262626" stroke-width="0.22">100</text>
<line x1="320.50" y1="1058.93" x2="322.93" y2="1058.93" stroke="#333" stroke-width="0.6"/>
<text x="325.56" y="1061.83" font-size="6.58" font-family='"Liberation Sans", sans-serif' fill="#262626" textLength="11.77" lengthAdjust="spacingAndGlyphs" stroke="#262626" stroke-width="0.22">200</text>
<line x1="320.50" y1="1016.52" x2="322.93" y2="1016.52" stroke="#333" stroke-width="0.6"/>
<text x="325.65" y="1019.42" font-size="6.58" font-family='"Liberation Sans", sans-serif' fill="#262626" textLength="11.68" lengthAdjust="spacingAndGlyphs" stroke="#262626" stroke-width="0.22">300</text>
<line x1="320.50" y1="974.11" x2="322.93" y2="974.11" stroke="#333" stroke-width="0.6"/>
<text x="325.76" y="977.01" font-size="6.58" font-family='"Liberation Sans", sans-serif' fill="#262626" textLength="11.57" lengthAdjust="spacingAndGlyphs" stroke="#262626" stroke-width="0.22">400</text>
<line x1="320.50" y1="931.71" x2="322.93" y2="931.71" stroke="#333" stroke-width="0.6"/>
<text x="325.64" y="934.60" font-size="6.58" font-family='"Liberation Sans", sans-serif' fill="#262626" textLength="11.70" lengthAdjust="spacingAndGlyphs" stroke="#262626" stroke-width="0.22">500</text>
<line x1="320.50" y1="889.30" x2="322.93" y2="889.30" stroke="#333" stroke-width="0.6"/>
<text x="325.56" y="892.20" font-size="6.58" font-family='"Liberation Sans", sans-serif' fill="#262626" textLength="11.78" lengthAdjust="spacingAndGlyphs" stroke="#262626" stroke-width="0.22">600</text>
<line x1="320.50" y1="846.89" x2="322.93" y2="846.89" stroke="#333" stroke-width="0.6"/>
<text x="325.56" y="849.79" font-size="6.58" font-family='"Liberation Sans", sans-serif' fill="#262626" textLength="11.78" lengthAdjust="spacingAndGlyphs" stroke="#262626" stroke-width="0.22">700</text>
<defs><clipPath id="c3"><rect x="438.80" y="829.75" width="318.50" height="316.55"/></clipPath></defs>
<g clip-path="url(#c3)" fill="none" stroke-linejoin="round" stroke-linecap="square">
<path d="M453.45 935.00 L453.50 844.30 L502.30 844.30" stroke="#9400d3" stroke-width="1.48"/>
<path d="M453.60 1018.00 L453.90 980.00 L454.70 970.00 L456.40 950.00 L457.20 940.00 L458.90 921.60 L460.50 903.30 L462.10 890.00 L464.60 880.00 L465.90 872.40 L468.40 868.70 L473.40 866.20 L477.80 862.40 L479.70 858.60 L484.70 856.10 L492.30 852.30 L498.50 850.50 L507.30 848.60 L517.40 847.60 L530.00 846.50 L538.00 845.70 L553.00 844.40 L742.75 844.30" stroke="#0f8f8f" stroke-width="1.48"/>
<path d="M453.40 1132.10 L453.40 935.00 L453.90 911.40 L455.20 896.30 L456.50 886.30 L457.70 878.70 L460.20 869.90 L463.40 863.60 L465.90 856.70 L469.00 854.20 L473.40 852.30 L479.70 848.60 L489.80 847.30 L498.50 845.80 L504.80 844.80 L520.00 844.40 L742.75 844.30" stroke="#b8860b" stroke-width="1.48"/>
<path d="M453.00 932.90 L453.60 920.00 L454.20 911.40 L455.40 896.30 L456.70 886.30 L457.90 878.70 L460.40 869.90 L463.60 863.60 L466.10 857.00 L469.20 854.50 L473.60 852.50 L479.90 849.00 L489.80 847.50 L498.50 846.00 L504.80 845.00 L520.00 844.50 L742.75 844.30" stroke="#ff6347" stroke-width="2.80" stroke-dasharray="17.8 4.45 2.78 4.45" stroke-linecap="butt"/>
</g>
<rect x="502.30" y="1097.50" width="251.20" height="45.40" fill="#ffffff" fill-opacity="0.8" stroke="#dcdcdc" stroke-width="0.7" rx="1.5"/>
<line x1="504.50" y1="1103.10" x2="520.00" y2="1103.10" stroke="#9400d3" stroke-width="1.48"/>
<text x="524.44" y="1105.90" font-size="8.14" font-family='"Liberation Sans", sans-serif' fill="#262626" textLength="190.30" lengthAdjust="spacingAndGlyphs" stroke="#262626" stroke-width="0.08">ROC curve of Lung_Adenocarcinoma (area = 1.0000)</text>
<line x1="504.50" y1="1114.10" x2="520.00" y2="1114.10" stroke="#0f8f8f" stroke-width="1.48"/>
<text x="524.45" y="1116.90" font-size="8.14" font-family='"Liberation Sans", sans-serif' fill="#262626" textLength="226.54" lengthAdjust="spacingAndGlyphs" stroke="#262626" stroke-width="0.08">ROC curve of Lung_Squamous_Cell_Carcinoma (area = 0.9803)</text>
<line x1="504.50" y1="1125.40" x2="520.00" y2="1125.40" stroke="#b8860b" stroke-width="1.48"/>
<text x="524.45" y="1128.20" font-size="8.14" font-family='"Liberation Sans", sans-serif' fill="#262626" textLength="179.79" lengthAdjust="spacingAndGlyphs" stroke="#262626" stroke-width="0.08">ROC curve of Lung-Benign_Tissue (area = 0.9924)</text>
<line x1="504.50" y1="1135.80" x2="520.00" y2="1135.80" stroke="#ff6347" stroke-width="2.80"/>
<text x="524.44" y="1138.60" font-size="8.14" font-family='"Liberation Sans", sans-serif' fill="#262626" textLength="153.56" lengthAdjust="spacingAndGlyphs" stroke="#262626" stroke-width="0.08">Macro-average ROC curve (area = 0.9910)</text>
<rect x="438.80" y="829.75" width="318.50" height="316.55" fill="none" stroke="#444" stroke-width="1.05"/>
<line x1="453.50" y1="1146.30" x2="453.50" y2="1148.74" stroke="#333" stroke-width="0.6"/>
<text x="448.16" y="1157.00" font-size="7.73" font-family='"Liberation Sans", sans-serif' fill="#262626" textLength="10.67" lengthAdjust="spacingAndGlyphs" stroke="#262626" stroke-width="0.08">0.0</text>
<line x1="436.36" y1="1132.10" x2="438.80" y2="1132.10" stroke="#333" stroke-width="0.6"/>
<text x="422.52" y="1134.80" font-size="7.73" font-family='"Liberation Sans", sans-serif' fill="#262626" textLength="10.67" lengthAdjust="spacingAndGlyphs" stroke="#262626" stroke-width="0.08">0.0</text>
<line x1="511.40" y1="1146.30" x2="511.40" y2="1148.74" stroke="#333" stroke-width="0.6"/>
<text x="506.06" y="1157.00" font-size="7.73" font-family='"Liberation Sans", sans-serif' fill="#262626" textLength="10.77" lengthAdjust="spacingAndGlyphs" stroke="#262626" stroke-width="0.08">0.2</text>
<line x1="436.36" y1="1074.54" x2="438.80" y2="1074.54" stroke="#333" stroke-width="0.6"/>
<text x="422.52" y="1077.24" font-size="7.73" font-family='"Liberation Sans", sans-serif' fill="#262626" textLength="10.77" lengthAdjust="spacingAndGlyphs" stroke="#262626" stroke-width="0.08">0.2</text>
<line x1="569.30" y1="1146.30" x2="569.30" y2="1148.74" stroke="#333" stroke-width="0.6"/>
<text x="563.97" y="1157.00" font-size="7.73" font-family='"Liberation Sans", sans-serif' fill="#262626" textLength="10.59" lengthAdjust="spacingAndGlyphs" stroke="#262626" stroke-width="0.08">0.4</text>
<line x1="436.36" y1="1016.98" x2="438.80" y2="1016.98" stroke="#333" stroke-width="0.6"/>
<text x="422.53" y="1019.68" font-size="7.73" font-family='"Liberation Sans", sans-serif' fill="#262626" textLength="10.59" lengthAdjust="spacingAndGlyphs" stroke="#262626" stroke-width="0.08">0.4</text>
<line x1="627.20" y1="1146.30" x2="627.20" y2="1148.74" stroke="#333" stroke-width="0.6"/>
<text x="621.86" y="1157.00" font-size="7.73" font-family='"Liberation Sans", sans-serif' fill="#262626" textLength="10.71" lengthAdjust="spacingAndGlyphs" stroke="#262626" stroke-width="0.08">0.6</text>
<line x1="436.36" y1="959.42" x2="438.80" y2="959.42" stroke="#333" stroke-width="0.6"/>
<text x="422.52" y="962.12" font-size="7.73" font-family='"Liberation Sans", sans-serif' fill="#262626" textLength="10.71" lengthAdjust="spacingAndGlyphs" stroke="#262626" stroke-width="0.08">0.6</text>
<line x1="685.10" y1="1146.30" x2="685.10" y2="1148.74" stroke="#333" stroke-width="0.6"/>
<text x="679.76" y="1157.00" font-size="7.73" font-family='"Liberation Sans", sans-serif' fill="#262626" textLength="10.71" lengthAdjust="spacingAndGlyphs" stroke="#262626" stroke-width="0.08">0.8</text>
<line x1="436.36" y1="901.86" x2="438.80" y2="901.86" stroke="#333" stroke-width="0.6"/>
<text x="422.52" y="904.56" font-size="7.73" font-family='"Liberation Sans", sans-serif' fill="#262626" textLength="10.71" lengthAdjust="spacingAndGlyphs" stroke="#262626" stroke-width="0.08">0.8</text>
<line x1="743.00" y1="1146.30" x2="743.00" y2="1148.74" stroke="#333" stroke-width="0.6"/>
<text x="737.36" y="1157.00" font-size="7.73" font-family='"Liberation Sans", sans-serif' fill="#262626" textLength="10.98" lengthAdjust="spacingAndGlyphs" stroke="#262626" stroke-width="0.08">1.0</text>
<line x1="436.36" y1="844.30" x2="438.80" y2="844.30" stroke="#333" stroke-width="0.6"/>
<text x="422.22" y="847.00" font-size="7.73" font-family='"Liberation Sans", sans-serif' fill="#262626" textLength="10.98" lengthAdjust="spacingAndGlyphs" stroke="#262626" stroke-width="0.08">1.0</text>
<text x="525.96" y="825.40" font-size="10.58" font-family='"Liberation Sans", sans-serif' fill="#262626" textLength="144.29" lengthAdjust="spacingAndGlyphs" stroke="#262626" stroke-width="0.08">Receiver Operating Characteristic</text>
<text x="564.50" y="1166.50" font-size="8.65" font-family='"Liberation Sans", sans-serif' fill="#262626" textLength="66.82" lengthAdjust="spacingAndGlyphs" stroke="#262626" stroke-width="0.08">False Positive Rate</text>
<g transform="translate(417.94 988.02) rotate(-90)"><text x="-31.87" y="0" font-size="8.65" font-family='"Liberation Sans", sans-serif' fill="#262626" textLength="63.91" lengthAdjust="spacingAndGlyphs" stroke="#262626" stroke-width="0.08">True Positive Rate</text></g>
<text x="342.57" y="1211.00" font-size="27.00" font-family='"Liberation Serif", serif' font-weight="bold" fill="#000" textLength="70.93" lengthAdjust="spacingAndGlyphs">Step 4</text>
<rect x="36.30" y="1223.05" width="85.48" height="105.88" fill="rgb(8,29,88)"/>
<rect x="121.48" y="1223.05" width="85.48" height="105.88" fill="rgb(255,255,217)"/>
<rect x="206.67" y="1223.05" width="85.18" height="105.88" fill="rgb(255,255,217)"/>
<rect x="36.30" y="1328.63" width="85.48" height="105.88" fill="rgb(255,255,217)"/>
<rect x="121.48" y="1328.63" width="85.48" height="105.88" fill="rgb(10,31,92)"/>
<rect x="206.67" y="1328.63" width="85.18" height="105.88" fill="rgb(254,254,214)"/>
<rect x="36.30" y="1434.22" width="85.48" height="105.58" fill="rgb(255,255,217)"/>
<rect x="121.48" y="1434.22" width="85.48" height="105.58" fill="rgb(251,254,209)"/>
<rect x="206.67" y="1434.22" width="85.18" height="105.58" fill="rgb(14,34,100)"/>
<text x="66.89" y="1280.04" font-size="13.74" font-family='"Liberation Sans", sans-serif' fill="#ffffff" textLength="23.83" lengthAdjust="spacingAndGlyphs" stroke="#ffffff" stroke-width="0.08">750</text>
<text x="160.10" y="1280.04" font-size="13.74" font-family='"Liberation Sans", sans-serif' fill="#262626" textLength="7.94" lengthAdjust="spacingAndGlyphs" stroke="#262626" stroke-width="0.08">0</text>
<text x="245.29" y="1280.04" font-size="13.74" font-family='"Liberation Sans", sans-serif' fill="#262626" textLength="7.94" lengthAdjust="spacingAndGlyphs" stroke="#262626" stroke-width="0.08">0</text>
<text x="74.92" y="1385.62" font-size="13.74" font-family='"Liberation Sans", sans-serif' fill="#262626" textLength="7.94" lengthAdjust="spacingAndGlyphs" stroke="#262626" stroke-width="0.08">0</text>
<text x="152.11" y="1385.62" font-size="13.74" font-family='"Liberation Sans", sans-serif' fill="#ffffff" textLength="23.83" lengthAdjust="spacingAndGlyphs" stroke="#ffffff" stroke-width="0.08">743</text>
<text x="245.28" y="1385.62" font-size="13.74" font-family='"Liberation Sans", sans-serif' fill="#262626" textLength="7.94" lengthAdjust="spacingAndGlyphs" stroke="#262626" stroke-width="0.08">7</text>
<text x="74.92" y="1491.20" font-size="13.74" font-family='"Liberation Sans", sans-serif' fill="#262626" textLength="7.94" lengthAdjust="spacingAndGlyphs" stroke="#262626" stroke-width="0.08">0</text>
<text x="155.92" y="1491.20" font-size="13.74" font-family='"Liberation Sans", sans-serif' fill="#262626" textLength="15.89" lengthAdjust="spacingAndGlyphs" stroke="#262626" stroke-width="0.08">19</text>
<text x="237.32" y="1491.20" font-size="13.74" font-family='"Liberation Sans", sans-serif' fill="#ffffff" textLength="23.83" lengthAdjust="spacingAndGlyphs" stroke="#ffffff" stroke-width="0.08">731</text>
<line x1="78.89" y1="1539.80" x2="78.89" y2="1542.26" stroke="#333" stroke-width="0.6"/>
<line x1="33.84" y1="1275.84" x2="36.30" y2="1275.84" stroke="#333" stroke-width="0.6"/>
<line x1="164.07" y1="1539.80" x2="164.07" y2="1542.26" stroke="#333" stroke-width="0.6"/>
<line x1="33.84" y1="1381.42" x2="36.30" y2="1381.42" stroke="#333" stroke-width="0.6"/>
<line x1="249.26" y1="1539.80" x2="249.26" y2="1542.26" stroke="#333" stroke-width="0.6"/>
<line x1="33.84" y1="1487.01" x2="36.30" y2="1487.01" stroke="#333" stroke-width="0.6"/>
<text x="74.44" y="1549.85" font-size="7.18" font-family='"Liberation Sans", sans-serif' fill="#262626" textLength="8.36" lengthAdjust="spacingAndGlyphs" stroke="#262626" stroke-width="0.22">LA</text>
<g transform="translate(30.92 1275.84) rotate(-90)"><text x="-4.46" y="0" font-size="7.18" font-family='"Liberation Sans", sans-serif' fill="#262626" textLength="8.36" lengthAdjust="spacingAndGlyphs" stroke="#262626" stroke-width="0.22">LA</text></g>
<text x="155.67" y="1549.85" font-size="7.18" font-family='"Liberation Sans", sans-serif' fill="#262626" textLength="16.53" lengthAdjust="spacingAndGlyphs" stroke="#262626" stroke-width="0.22">LSCC</text>
<g transform="translate(30.92 1381.42) rotate(-90)"><text x="-8.40" y="0" font-size="7.18" font-family='"Liberation Sans", sans-serif' fill="#262626" textLength="16.53" lengthAdjust="spacingAndGlyphs" stroke="#262626" stroke-width="0.22">LSCC</text></g>
<text x="242.97" y="1549.85" font-size="7.18" font-family='"Liberation Sans", sans-serif' fill="#262626" textLength="12.18" lengthAdjust="spacingAndGlyphs" stroke="#262626" stroke-width="0.22">LBT</text>
<g transform="translate(30.92 1487.01) rotate(-90)"><text x="-6.28" y="0" font-size="7.18" font-family='"Liberation Sans", sans-serif' fill="#262626" textLength="12.18" lengthAdjust="spacingAndGlyphs" stroke="#262626" stroke-width="0.22">LBT</text></g>
<text x="109.92" y="1219.05" font-size="13.53" font-family='"Liberation Sans", sans-serif' fill="#262626" textLength="107.74" lengthAdjust="spacingAndGlyphs" stroke="#262626" stroke-width="0.08">Confusion Matrix</text>
<text x="114.47" y="1563.05" font-size="13.53" font-family='"Liberation Sans", sans-serif' fill="#262626" textLength="98.99" lengthAdjust="spacingAndGlyphs" stroke="#262626" stroke-width="0.08">Predicted Label</text>
<g transform="translate(19.75 1383.22) rotate(-90)"><text x="-32.60" y="0" font-size="13.53" font-family='"Liberation Sans", sans-serif' fill="#262626" textLength="65.81" lengthAdjust="spacingAndGlyphs" stroke="#262626" stroke-width="0.08">True Label</text></g>
<defs><linearGradient id="g4" x1="0" y1="0" x2="0" y2="1"><stop offset="0.0000" stop-color="#081d58"/><stop offset="0.1250" stop-color="#253494"/><stop offset="0.2500" stop-color="#225ea8"/><stop offset="0.3750" stop-color="#1d91c0"/><stop offset="0.5000" stop-color="#41b6c4"/><stop offset="0.6250" stop-color="#7fcdbb"/><stop offset="0.7500" stop-color="#c7e9b4"/><stop offset="0.8750" stop-color="#edf8b1"/><stop offset="1.0000" stop-color="#ffffd9"/></linearGradient></defs>
<rect x="307.75" y="1223.05" width="15.25" height="317.45" fill="url(#g4)"/>
<line x1="323.00" y1="1540.50" x2="325.46" y2="1540.50" stroke="#333" stroke-width="0.6"/>
<text x="328.20" y="1543.43" font-size="6.66" font-family='"Liberation Sans", sans-serif' fill="#262626" textLength="4.05" lengthAdjust="spacingAndGlyphs" stroke="#262626" stroke-width="0.22">0</text>
<line x1="323.00" y1="1498.17" x2="325.46" y2="1498.17" stroke="#333" stroke-width="0.6"/>
<text x="327.93" y="1501.10" font-size="6.66" font-family='"Liberation Sans", sans-serif' fill="#262626" textLength="12.11" lengthAdjust="spacingAndGlyphs" stroke="#262626" stroke-width="0.22">100</text>
<line x1="323.00" y1="1455.85" x2="325.46" y2="1455.85" stroke="#333" stroke-width="0.6"/>
<text x="328.12" y="1458.77" font-size="6.66" font-family='"Liberation Sans", sans-serif' fill="#262626" textLength="11.91" lengthAdjust="spacingAndGlyphs" stroke="#262626" stroke-width="0.22">200</text>
<line x1="323.00" y1="1413.52" x2="325.46" y2="1413.52" stroke="#333" stroke-width="0.6"/>
<text x="328.21" y="1416.45" font-size="6.66" font-family='"Liberation Sans", sans-serif' fill="#262626" textLength="11.82" lengthAdjust="spacingAndGlyphs" stroke="#262626" stroke-width="0.22">300</text>
<line x1="323.00" y1="1371.19" x2="325.46" y2="1371.19" stroke="#333" stroke-width="0.6"/>
<text x="328.32" y="1374.12" font-size="6.66" font-family='"Liberation Sans", sans-serif' fill="#262626" textLength="11.71" lengthAdjust="spacingAndGlyphs" stroke="#262626" stroke-width="0.22">400</text>
<line x1="323.00" y1="1328.87" x2="325.46" y2="1328.87" stroke="#333" stroke-width="0.6"/>
<text x="328.20" y="1331.79" font-size="6.66" font-family='"Liberation Sans", sans-serif' fill="#262626" textLength="11.84" lengthAdjust="spacingAndGlyphs" stroke="#262626" stroke-width="0.22">500</text>
<line x1="323.00" y1="1286.54" x2="325.46" y2="1286.54" stroke="#333" stroke-width="0.6"/>
<text x="328.12" y="1289.47" font-size="6.66" font-family='"Liberation Sans", sans-serif' fill="#262626" textLength="11.92" lengthAdjust="spacingAndGlyphs" stroke="#262626" stroke-width="0.22">600</text>
<line x1="323.00" y1="1244.21" x2="325.46" y2="1244.21" stroke="#333" stroke-width="0.6"/>
<text x="328.12" y="1247.14" font-size="6.66" font-family='"Liberation Sans", sans-serif' fill="#262626" textLength="11.92" lengthAdjust="spacingAndGlyphs" stroke="#262626" stroke-width="0.22">700</text>
<defs><clipPath id="c4"><rect x="440.90" y="1225.75" width="314.85" height="312.65"/></clipPath></defs>
<g clip-path="url(#c4)" fill="none" stroke-linejoin="round" stroke-linecap="square">
<path d="M455.00 1340.00 L455.00 1239.90 L741.40 1239.90" stroke="#9400d3" stroke-width="1.46"/>
<path d="M455.70 1471.00 L455.70 1300.00 L455.70 1250.00 L456.80 1243.20 L459.10 1242.30 L469.10 1241.80 L480.00 1240.60 L510.00 1239.90 L741.25 1239.90" stroke="#0f8f8f" stroke-width="1.46"/>
<path d="M455.00 1524.50 L455.10 1300.00 L455.60 1245.70 L456.50 1243.20 L459.10 1241.90 L469.10 1241.30 L476.70 1240.30 L500.00 1239.90 L741.25 1239.90" stroke="#b8860b" stroke-width="1.46"/>
<path d="M455.20 1329.90 L455.30 1250.00 L455.80 1244.50 L458.00 1241.50 L462.00 1240.60 L476.00 1240.10 L741.25 1239.80" stroke="#ff6347" stroke-width="2.77" stroke-dasharray="17.8 4.45 2.78 4.45" stroke-linecap="butt"/>
</g>
<rect x="503.50" y="1490.30" width="248.75" height="44.90" fill="#ffffff" fill-opacity="0.8" stroke="#dcdcdc" stroke-width="0.7" rx="1.5"/>
<line x1="505.70" y1="1496.00" x2="521.10" y2="1496.00" stroke="#9400d3" stroke-width="1.46"/>
<text x="525.65" y="1498.77" font-size="8.05" font-family='"Liberation Sans", sans-serif' fill="#262626" textLength="187.84" lengthAdjust="spacingAndGlyphs" stroke="#262626" stroke-width="0.08">ROC curve of Lung_Adenocarcinoma (area = 1.0000)</text>
<line x1="505.70" y1="1506.60" x2="521.10" y2="1506.60" stroke="#0f8f8f" stroke-width="1.46"/>
<text x="525.66" y="1509.37" font-size="8.05" font-family='"Liberation Sans", sans-serif' fill="#262626" textLength="224.07" lengthAdjust="spacingAndGlyphs" stroke="#262626" stroke-width="0.08">ROC curve of Lung_Squamous_Cell_Carcinoma (area = 0.9982)</text>
<line x1="505.70" y1="1517.90" x2="521.10" y2="1517.90" stroke="#b8860b" stroke-width="1.46"/>
<text x="525.66" y="1520.67" font-size="8.05" font-family='"Liberation Sans", sans-serif' fill="#262626" textLength="177.33" lengthAdjust="spacingAndGlyphs" stroke="#262626" stroke-width="0.08">ROC curve of Lung-Benign_Tissue (area = 0.9984)</text>
<line x1="505.70" y1="1528.40" x2="521.10" y2="1528.40" stroke="#ff6347" stroke-width="2.77"/>
<text x="525.65" y="1531.17" font-size="8.05" font-family='"Liberation Sans", sans-serif' fill="#262626" textLength="151.59" lengthAdjust="spacingAndGlyphs" stroke="#262626" stroke-width="0.08">Macro-average ROC curve (area = 0.9990)</text>
<rect x="440.90" y="1225.75" width="314.85" height="312.65" fill="none" stroke="#444" stroke-width="1.05"/>
<line x1="455.00" y1="1538.40" x2="455.00" y2="1540.82" stroke="#333" stroke-width="0.6"/>
<text x="449.72" y="1548.90" font-size="7.65" font-family='"Liberation Sans", sans-serif' fill="#262626" textLength="10.56" lengthAdjust="spacingAndGlyphs" stroke="#262626" stroke-width="0.08">0.0</text>
<line x1="438.48" y1="1524.50" x2="440.90" y2="1524.50" stroke="#333" stroke-width="0.6"/>
<text x="424.80" y="1527.17" font-size="7.65" font-family='"Liberation Sans", sans-serif' fill="#262626" textLength="10.56" lengthAdjust="spacingAndGlyphs" stroke="#262626" stroke-width="0.08">0.0</text>
<line x1="512.28" y1="1538.40" x2="512.28" y2="1540.82" stroke="#333" stroke-width="0.6"/>
<text x="507.00" y="1548.90" font-size="7.65" font-family='"Liberation Sans", sans-serif' fill="#262626" textLength="10.65" lengthAdjust="spacingAndGlyphs" stroke="#262626" stroke-width="0.08">0.2</text>
<line x1="438.48" y1="1467.58" x2="440.90" y2="1467.58" stroke="#333" stroke-width="0.6"/>
<text x="424.80" y="1470.25" font-size="7.65" font-family='"Liberation Sans", sans-serif' fill="#262626" textLength="10.65" lengthAdjust="spacingAndGlyphs" stroke="#262626" stroke-width="0.08">0.2</text>
<line x1="569.56" y1="1538.40" x2="569.56" y2="1540.82" stroke="#333" stroke-width="0.6"/>
<text x="564.28" y="1548.90" font-size="7.65" font-family='"Liberation Sans", sans-serif' fill="#262626" textLength="10.48" lengthAdjust="spacingAndGlyphs" stroke="#262626" stroke-width="0.08">0.4</text>
<line x1="438.48" y1="1410.66" x2="440.90" y2="1410.66" stroke="#333" stroke-width="0.6"/>
<text x="424.81" y="1413.33" font-size="7.65" font-family='"Liberation Sans", sans-serif' fill="#262626" textLength="10.48" lengthAdjust="spacingAndGlyphs" stroke="#262626" stroke-width="0.08">0.4</text>
<line x1="626.84" y1="1538.40" x2="626.84" y2="1540.82" stroke="#333" stroke-width="0.6"/>
<text x="621.56" y="1548.90" font-size="7.65" font-family='"Liberation Sans", sans-serif' fill="#262626" textLength="10.60" lengthAdjust="spacingAndGlyphs" stroke="#262626" stroke-width="0.08">0.6</text>
<line x1="438.48" y1="1353.74" x2="440.90" y2="1353.74" stroke="#333" stroke-width="0.6"/>
<text x="424.80" y="1356.41" font-size="7.65" font-family='"Liberation Sans", sans-serif' fill="#262626" textLength="10.60" lengthAdjust="spacingAndGlyphs" stroke="#262626" stroke-width="0.08">0.6</text>
<line x1="684.12" y1="1538.40" x2="684.12" y2="1540.82" stroke="#333" stroke-width="0.6"/>
<text x="678.84" y="1548.90" font-size="7.65" font-family='"Liberation Sans", sans-serif' fill="#262626" textLength="10.59" lengthAdjust="spacingAndGlyphs" stroke="#262626" stroke-width="0.08">0.8</text>
<line x1="438.48" y1="1296.82" x2="440.90" y2="1296.82" stroke="#333" stroke-width="0.6"/>
<text x="424.80" y="1299.49" font-size="7.65" font-family='"Liberation Sans", sans-serif' fill="#262626" textLength="10.59" lengthAdjust="spacingAndGlyphs" stroke="#262626" stroke-width="0.08">0.8</text>
<line x1="741.40" y1="1538.40" x2="741.40" y2="1540.82" stroke="#333" stroke-width="0.6"/>
<text x="735.82" y="1548.90" font-size="7.65" font-family='"Liberation Sans", sans-serif' fill="#262626" textLength="10.86" lengthAdjust="spacingAndGlyphs" stroke="#262626" stroke-width="0.08">1.0</text>
<line x1="438.48" y1="1239.90" x2="440.90" y2="1239.90" stroke="#333" stroke-width="0.6"/>
<text x="424.50" y="1242.57" font-size="7.65" font-family='"Liberation Sans", sans-serif' fill="#262626" textLength="10.86" lengthAdjust="spacingAndGlyphs" stroke="#262626" stroke-width="0.08">1.0</text>
<text x="526.47" y="1221.45" font-size="10.47" font-family='"Liberation Sans", sans-serif' fill="#262626" textLength="143.03" lengthAdjust="spacingAndGlyphs" stroke="#262626" stroke-width="0.08">Receiver Operating Characteristic</text>
<text x="565.14" y="1558.80" font-size="8.55" font-family='"Liberation Sans", sans-serif' fill="#262626" textLength="66.08" lengthAdjust="spacingAndGlyphs" stroke="#262626" stroke-width="0.08">False Positive Rate</text>
<g transform="translate(420.27 1382.08) rotate(-90)"><text x="-31.52" y="0" font-size="8.55" font-family='"Liberation Sans", sans-serif' fill="#262626" textLength="63.21" lengthAdjust="spacingAndGlyphs" stroke="#262626" stroke-width="0.08">True Positive Rate</text></g>
</svg></body></html>
